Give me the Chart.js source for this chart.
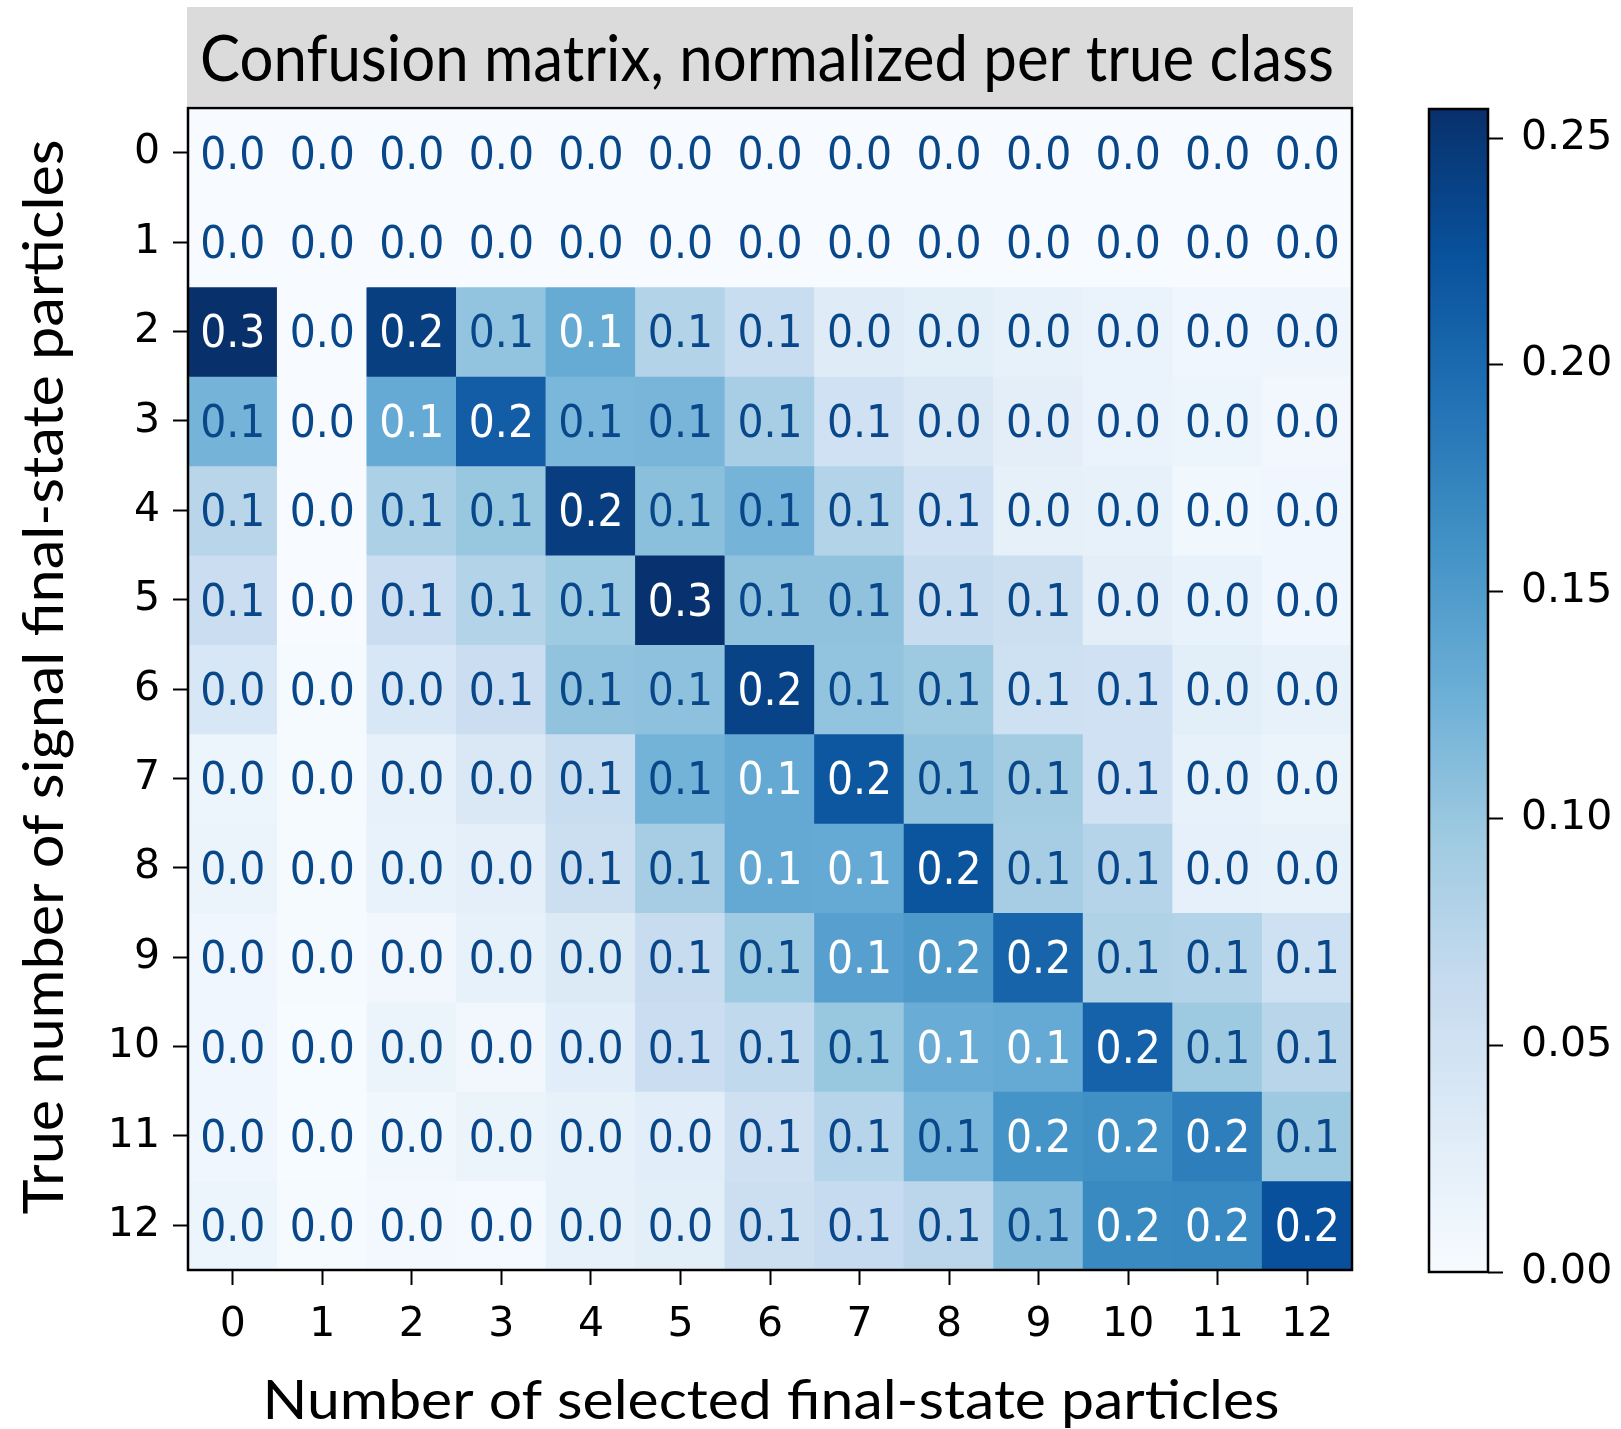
<!DOCTYPE html>
<html>
<head>
<meta charset="utf-8">
<title>Confusion matrix</title>
<script src="https://cdn.jsdelivr.net/npm/chart.js@4.4.1/dist/chart.umd.min.js"></script>
<style>
  html, body { margin: 0; padding: 0; background: #fff; }
  #wrap { position: relative; width: 1621px; height: 1429px; }
  #matrix { position: absolute; left: 0; top: 0; }
  #cbar { position: absolute; left: 1380px; top: 0; }
</style>
</head>
<body>
<div id="wrap">
  <canvas id="matrix" width="1621" height="1429"></canvas>
  <canvas id="cbar" width="241" height="1429"></canvas>
</div>
<script>
// Axis categories
const predictedLabels = ['0', '1', '2', '3', '4', '5', '6', '7', '8', '9', '10', '11', '12'];
const trueLabels = ['0', '1', '2', '3', '4', '5', '6', '7', '8', '9', '10', '11', '12'];

// One array per true class (row), values per selected class (column)
const row0 = [0, 0, 0, 0, 0, 0, 0, 0, 0, 0, 0, 0, 0];
const row1 = [0, 0, 0, 0, 0, 0, 0, 0, 0, 0, 0, 0, 0];
const row2 = [0.257, 0, 0.242, 0.103, 0.132, 0.080, 0.060, 0.031, 0.027, 0.020, 0.017, 0.010, 0.012];
const row3 = [0.122, 0, 0.133, 0.212, 0.118, 0.120, 0.088, 0.052, 0.038, 0.026, 0.017, 0.013, 0.008];
const row4 = [0.075, 0, 0.085, 0.100, 0.243, 0.108, 0.122, 0.080, 0.052, 0.023, 0.021, 0.009, 0.010];
const row5 = [0.058, 0, 0.058, 0.080, 0.095, 0.254, 0.105, 0.105, 0.062, 0.056, 0.026, 0.019, 0.010];
const row6 = [0.040, 0.003, 0.040, 0.058, 0.104, 0.106, 0.238, 0.103, 0.096, 0.053, 0.052, 0.027, 0.020];
const row7 = [0.013, 0.003, 0.020, 0.038, 0.060, 0.123, 0.134, 0.218, 0.104, 0.092, 0.052, 0.020, 0.016];
const row8 = [0.015, 0.003, 0.019, 0.024, 0.056, 0.090, 0.134, 0.133, 0.220, 0.090, 0.078, 0.022, 0.020];
const row9 = [0.010, 0.002, 0.008, 0.020, 0.035, 0.062, 0.095, 0.145, 0.152, 0.205, 0.082, 0.080, 0.053];
const row10 = [0.010, 0.001, 0.015, 0.008, 0.028, 0.058, 0.068, 0.100, 0.130, 0.133, 0.207, 0.096, 0.075];
const row11 = [0.010, 0.001, 0.009, 0.015, 0.020, 0.028, 0.054, 0.076, 0.118, 0.158, 0.162, 0.180, 0.096];
const row12 = [0.013, 0.002, 0.007, 0.005, 0.020, 0.027, 0.056, 0.064, 0.073, 0.112, 0.168, 0.170, 0.225];
const matrixRows = [row0, row1, row2, row3, row4, row5, row6, row7, row8, row9, row10, row11, row12];

// Colour bar range and ticks
const colorMax = 0.2564;
const colorbarTicks = [0, 0.05, 0.10, 0.15, 0.20, 0.25];

// matplotlib "Blues" colormap anchor colours
const bluesStops = ['#f7fbff', '#deebf7', '#c6dbef', '#9ecae1', '#6baed6', '#4292c6', '#2171b5', '#08519c', '#08306b'];

const tickFont = { family: "'DejaVu Sans', sans-serif", size: 41 };
const titleFamily = "Lato, 'Open Sans', sans-serif";

function hexToRgb(h) {
  return [parseInt(h.slice(1, 3), 16), parseInt(h.slice(3, 5), 16), parseInt(h.slice(5, 7), 16)];
}

// Linear interpolation through the Blues anchors, t in [0, 1]
function blues(t) {
  t = Math.max(0, Math.min(1, t));
  const pos = t * (bluesStops.length - 1);
  const i = Math.min(Math.floor(pos), bluesStops.length - 2);
  const f = pos - i;
  const a = hexToRgb(bluesStops[i]);
  const b = hexToRgb(bluesStops[i + 1]);
  const c = a.map((v, k) => Math.round(v + (b[k] - v) * f));
  return `rgb(${c[0]}, ${c[1]}, ${c[2]})`;
}

// Draw text squeezed/stretched to a given width (titles use a narrow face)
function fitText(ctx, text, x, y, width, font, rotate) {
  ctx.save();
  ctx.font = font;
  const w = ctx.measureText(text).width;
  ctx.translate(x, y);
  if (rotate) ctx.rotate(-Math.PI / 2);
  ctx.scale(width / w, 1);
  ctx.textAlign = 'center';
  ctx.textBaseline = 'alphabetic';
  ctx.fillStyle = '#000';
  ctx.fillText(text, 0, 0);
  ctx.restore();
}

// Title box, cell annotations, frame and axis titles
const matrixDecor = {
  id: 'matrixDecor',
  beforeDraw(chart) {
    const ctx = chart.ctx;
    ctx.save();
    ctx.fillStyle = '#dbdbdb';
    ctx.fillRect(187, 7, 1166, 99);
    ctx.restore();
    fitText(ctx, 'Confusion matrix, normalized per true class', 767, 81, 1134, `64px ${titleFamily}`);
  },
  afterDatasetsDraw(chart) {
    const ctx = chart.ctx;
    const area = chart.chartArea;
    ctx.save();
    ctx.font = `${tickFont.size}px ${tickFont.family}`;
    ctx.textAlign = 'center';
    ctx.textBaseline = 'alphabetic';
    chart.data.datasets.forEach((ds, i) => {
      const meta = chart.getDatasetMeta(i);
      meta.data.forEach((bar, j) => {
        const v = ds.values[j];
        const cy = (bar.y + bar.base) / 2;
        ctx.fillStyle = v > colorMax / 2 ? '#ffffff' : '#08478a';
        ctx.save();
        ctx.translate(bar.x, cy + 16);
        ctx.scale(1, 1.1);
        ctx.fillText(v.toFixed(1), 0, 0);
        ctx.restore();
      });
    });
    ctx.strokeStyle = '#000';
    ctx.lineWidth = 2.5;
    ctx.strokeRect(area.left, area.top, area.right - area.left, area.bottom - area.top);
    ctx.restore();
  },
  afterDraw(chart) {
    const ctx = chart.ctx;
    fitText(ctx, 'Number of selected final-state particles', 771, 1419, 1017, `55px ${titleFamily}`);
    fitText(ctx, 'True number of signal final-state particles', 63, 677, 1075, `57px ${titleFamily}`, true);
  }
};

const matrixDatasets = matrixRows.map((row, r) => ({
  label: trueLabels[r],
  data: row.map(() => [r - 0.5, r + 0.5]),
  values: row,
  backgroundColor: row.map((v) => blues(v / colorMax)),
  borderWidth: 0,
  inflateAmount: 0.6,
  grouped: false,
  barPercentage: 1,
  categoryPercentage: 1
}));

new Chart(document.getElementById('matrix'), {
  type: 'bar',
  data: { labels: predictedLabels, datasets: matrixDatasets },
  plugins: [matrixDecor],
  options: {
    responsive: false,
    animation: false,
    layout: { padding: { left: 100, top: 108, right: 269, bottom: 59 } },
    plugins: { legend: { display: false }, tooltip: { enabled: false }, title: { display: false } },
    scales: {
      x: {
        type: 'category',
        offset: true,
        grid: { offset: false, drawOnChartArea: false, drawTicks: true, tickLength: 15, tickWidth: 2, tickColor: '#000' },
        border: { display: false },
        ticks: { font: tickFont, color: '#000', padding: 16, maxRotation: 0, autoSkip: false },
        afterFit: (s) => { s.height = 100; }
      },
      y: {
        type: 'linear',
        reverse: true,
        min: -0.5,
        max: 12.5,
        afterBuildTicks: (s) => { s.ticks = trueLabels.map((_, i) => ({ value: i })); },
        grid: { drawOnChartArea: false, drawTicks: true, tickLength: 15, tickWidth: 2, tickColor: '#000' },
        border: { display: false },
        ticks: { font: tickFont, color: '#000', padding: 13, callback: (v) => trueLabels[v] },
        afterFit: (s) => { s.width = 88; }
      }
    }
  }
});

// Colour bar: one floating bar from 0 to the max, filled with the colormap
const cbarFrame = {
  id: 'cbarFrame',
  afterDatasetsDraw(chart) {
    const ctx = chart.ctx;
    const a = chart.chartArea;
    ctx.save();
    ctx.strokeStyle = '#000';
    ctx.lineWidth = 2.5;
    ctx.strokeRect(a.left, a.top, a.right - a.left, a.bottom - a.top);
    ctx.restore();
  }
};

new Chart(document.getElementById('cbar'), {
  type: 'bar',
  data: {
    labels: ['scale'],
    datasets: [{
      data: [[0, colorMax]],
      backgroundColor: (c) => {
        const area = c.chart.chartArea;
        if (!area) return bluesStops[0];
        const g = c.chart.ctx.createLinearGradient(0, area.bottom, 0, area.top);
        bluesStops.forEach((col, i) => g.addColorStop(i / (bluesStops.length - 1), col));
        return g;
      },
      borderWidth: 0,
      inflateAmount: 1,
      barPercentage: 1,
      categoryPercentage: 1
    }]
  },
  plugins: [cbarFrame],
  options: {
    responsive: false,
    animation: false,
    layout: { padding: { left: 49, top: 109, right: 0, bottom: 157 } },
    plugins: { legend: { display: false }, tooltip: { enabled: false } },
    scales: {
      x: { display: false, offset: true },
      y: {
        position: 'right',
        min: 0,
        max: colorMax,
        afterBuildTicks: (s) => { s.ticks = colorbarTicks.map((v) => ({ value: v })); },
        grid: { drawOnChartArea: false, drawTicks: true, tickLength: 15, tickWidth: 2, tickColor: '#000' },
        border: { display: false },
        ticks: { font: tickFont, color: '#000', padding: 18, callback: (v) => v.toFixed(2) },
        afterFit: (s) => { s.width = 133; }
      }
    }
  }
});
</script>
</body>
</html>
